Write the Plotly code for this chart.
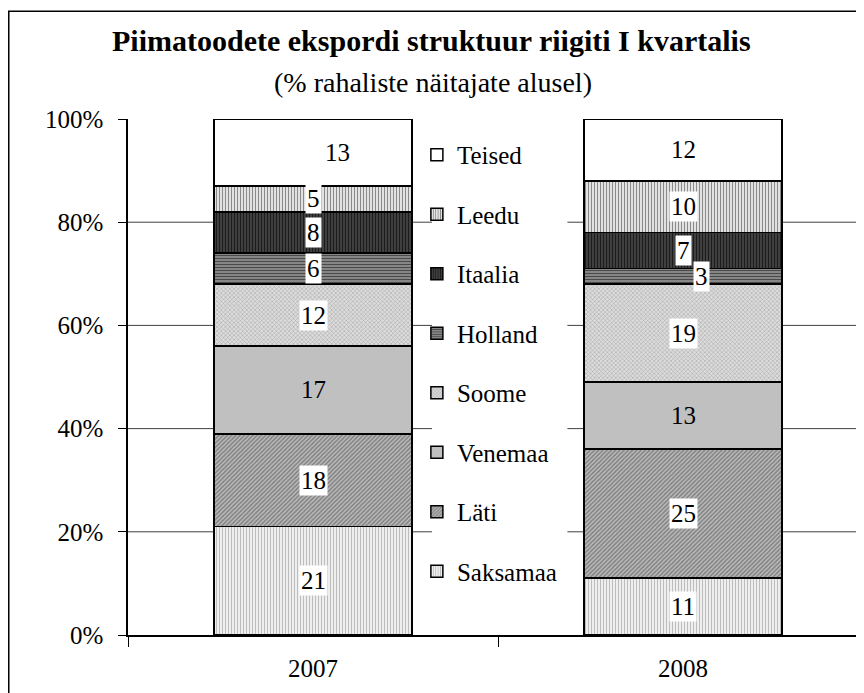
import plotly.graph_objects as go

years = ["2007", "2008"]
countries = ["Saksamaa", "Läti", "Venemaa", "Soome", "Holland", "Itaalia", "Leedu", "Teised"]
saksamaa = [21, 11]
lati = [18, 25]
venemaa = [17, 13]
soome = [12, 19]
holland = [6, 3]
itaalia = [8, 7]
leedu = [5, 10]
teised = [13, 12]
y_ticks = [0, 20, 40, 60, 80, 100]
y_tick_text = ["0%", "20%", "40%", "60%", "80%", "100%"]

series = [saksamaa, lati, venemaa, soome, holland, itaalia, leedu, teised]

FONT = "Liberation Serif"

# fill style per country: (bgcolor, fgcolor, shape, solidity)
styles = {
    "Saksamaa": ("#ffffff", "#bdbdbd", "|", 0.5),
    "Läti": ("#bdbdbd", "#808080", "/", 0.5),
    "Venemaa": ("#c0c0c0", "#c0c0c0", "", 0.3),
    "Soome": ("#dcdcdc", "#a0a0a0", "x", 0.3),
    "Holland": ("#9a9a9a", "#4a4a4a", "-", 0.5),
    "Itaalia": ("#4a4a4a", "#1c1c1c", "|", 0.5),
    "Leedu": ("#ffffff", "#8a8a8a", "|", 0.5),
    "Teised": ("#ffffff", "#ffffff", "", 0.3),
}

fig = go.Figure()

for rank, (name, vals) in enumerate(zip(countries, series)):
    bg, fg, shape, sol = styles[name]
    fig.add_trace(go.Bar(
        x=years, y=vals, name=name, width=0.535,
        legendgroup=name, legendrank=1000 - rank,
        marker=dict(
            color=bg,
            line=dict(color="black", width=1.5),
            pattern=dict(shape=shape, bgcolor=bg, fgcolor=fg, size=3, solidity=sol,
                         fillmode="replace"),
        ),
    ))

# data labels at segment midpoints (x given as category index)
label_shift = {("Teised", 0): 24, ("Holland", 1): 18}
annotations = []
base = [0, 0]
for name, vals in zip(countries, series):
    for i, v in enumerate(vals):
        mid = base[i] + v / 2
        boxed = name not in ("Venemaa", "Teised")
        annotations.append(dict(
            x=i, y=mid, xref="x", yref="y", text=str(v), showarrow=False,
            xshift=label_shift.get((name, i), 0),
            font=dict(family=FONT, size=25, color="black"),
            bgcolor="white" if boxed else "rgba(0,0,0,0)",
            borderpad=1,
        ))
        base[i] += v

annotations.append(dict(
    text="<b>Piimatoodete ekspordi struktuur riigiti I kvartalis</b>",
    x=0.413, y=1.153, xref="paper", yref="paper", showarrow=False,
    font=dict(family=FONT, size=30, color="black"), yanchor="middle",
))
annotations.append(dict(
    text="(% rahaliste näitajate alusel)",
    x=0.415, y=1.0717, xref="paper", yref="paper", showarrow=False,
    font=dict(family=FONT, size=28, color="black"), yanchor="middle",
))

shapes = []
for v in y_ticks[1:-1]:
    shapes.append(dict(type="line", xref="paper", yref="y", x0=0, x1=1, y0=v, y1=v,
                       line=dict(color="#404040", width=1), layer="below"))
# white backdrop behind the legend
shapes.append(dict(type="rect", xref="paper", yref="paper", x0=0.413, x1=0.597,
                   y0=0.08, y1=0.975, fillcolor="white", line=dict(width=0), layer="below"))
# outer chart frame
shapes.append(dict(type="rect", xref="paper", yref="paper", x0=-0.162, x1=1.02,
                   y0=-0.14, y1=1.209, line=dict(color="black", width=1.5)))

fig.update_layout(
    barmode="stack",
    width=856, height=685,
    margin=dict(l=120, r=0, t=111, b=58),
    plot_bgcolor="white", paper_bgcolor="white",
    font=dict(family=FONT, size=25, color="black"),
    showlegend=True,
    legend=dict(
        traceorder="grouped", tracegroupgap=24,
        x=0.3925, y=0.975, xanchor="left", yanchor="top",
        bgcolor="rgba(0,0,0,0)", font=dict(family=FONT, size=25),
    ),
    annotations=annotations,
    shapes=shapes,
)
fig.update_xaxes(
    type="category", range=[-0.5, 1.489], showline=True, linecolor="black", linewidth=1.5,
    ticks="outside", tickson="boundaries", ticklen=10, tickcolor="black",
    showgrid=False, ticklabelstandoff=10, tickfont=dict(family=FONT, size=25),
)
fig.update_yaxes(
    range=[0, 100], tickvals=y_ticks, ticktext=y_tick_text,
    showline=True, linecolor="black", linewidth=1.5,
    ticks="outside", ticklen=8, tickcolor="black", showgrid=False,
    ticklabelstandoff=10, tickfont=dict(family=FONT, size=25),
)

fig.write_html("out.html")
